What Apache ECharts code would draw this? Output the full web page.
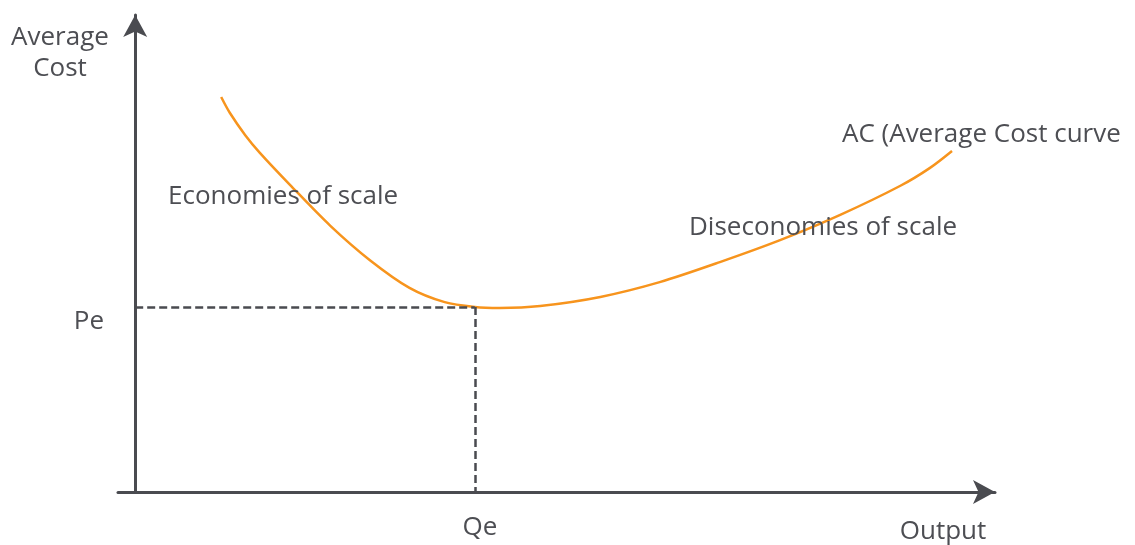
<!DOCTYPE html>
<html lang="en">
<head>
    <meta charset="UTF-8">
    <title>Average Cost curve</title>
    <style>
        html, body { margin: 0; padding: 0; background: #fff; }
    </style>
</head>
<body>
<div class="main" style="width: 1135px;height: 545px"></div>
</body>
<script src="https://cdn.jsdelivr.net/npm/echarts@6/dist/echarts.min.js"></script>
<script>
    // output (x) and average cost (y), axis range 0-100
    var outputVals = [10.0, 11.0, 12.8, 14.5, 18.0, 22.7, 27.3, 31.9, 36.0, 39.5, 42.4, 47.1, 54.1, 61.0, 68.0, 75.0, 82.0, 89.0, 92.4, 95.0];
    var costVals   = [82.8, 79.5, 74.8, 71.1, 64.4, 55.8, 48.6, 42.8, 39.8, 38.8, 38.6, 39.0, 40.9, 44.0, 48.2, 52.8, 58.1, 64.2, 67.9, 71.5];

    // equilibrium point
    var pe = 38.8;
    var qe = 39.5;

    // text notes on the curve: [x, y, text, align]
    var notes = [
        [17.2, 62.0, 'Economies of scale', 'center'],
        [80.0, 55.5, 'Diseconomies of scale', 'center'],
        [82.2, 75.0, 'AC (Average Cost curve', 'left']
    ];

    var textColor = '#4d4e53';
    var axisColor = '#4a4b50';
    var font = 'Open Sans';
    var fontSize = 26;

    var main = document.querySelector(".main");
    var chart = echarts.init(main);

    var curve = outputVals.map(function (x, i) {
        return [x, costVals[i]];
    });

    var option = {
        animation: false,
        grid: {
            left: 118,
            right: 140,
            top: 15,
            bottom: 53,
            outerBoundsMode: 'none'
        },
        graphic: [
            {
                type: 'text',
                x: 60,
                y: 22,
                style: {
                    text: 'Average\nCost',
                    fill: textColor,
                    font: fontSize + 'px "' + font + '"',
                    lineHeight: 31,
                    align: 'center',
                    verticalAlign: 'top'
                }
            },
            {
                type: 'text',
                x: 943,
                y: 532,
                style: {
                    text: 'Output',
                    fill: textColor,
                    font: fontSize + 'px "' + font + '"',
                    align: 'center',
                    verticalAlign: 'middle'
                }
            }
        ],
        xAxis: {
            type: 'value',
            min: -2,
            max: 100,
            splitLine: {show: false},
            axisTick: {show: false},
            axisLine: {
                onZero: false,
                symbol: ['none', 'arrow'],
                symbolSize: [18, 22],
                lineStyle: {color: axisColor, width: 3}
            },
            axisLabel: {
                customValues: [qe],
                formatter: function () { return 'Qe'; },
                color: textColor,
                fontFamily: font,
                fontSize: fontSize,
                margin: 23,
                padding: [0, 0, 0, 10]
            }
        },
        yAxis: {
            type: 'value',
            min: 0,
            max: 100,
            splitLine: {show: false},
            axisTick: {show: false},
            axisLine: {
                onZero: true,
                symbol: ['none', 'arrow'],
                symbolSize: [18, 22],
                lineStyle: {color: axisColor, width: 3}
            },
            axisLabel: {
                customValues: [pe],
                formatter: function () { return 'Pe'; },
                color: textColor,
                fontFamily: font,
                fontSize: fontSize,
                margin: 14,
                verticalAlign: 'top',
                padding: [2, 0, 0, 0]
            }
        },
        series: [
            {
                type: 'line',
                data: curve,
                smooth: 0.3,
                symbol: 'none',
                lineStyle: {color: '#f7941d', width: 2.5},
                markLine: {
                    silent: true,
                    symbol: 'none',
                    label: {show: false},
                    lineStyle: {color: axisColor, width: 2.5, type: [8, 4]},
                    data: [
                        [{coord: [0, pe]}, {coord: [qe, pe]}],
                        [{coord: [qe, pe]}, {coord: [qe, 0]}]
                    ]
                },
                markPoint: {
                    silent: true,
                    symbol: 'circle',
                    symbolSize: 0,
                    data: notes.map(function (n) {
                        return {
                            coord: [n[0], n[1]],
                            label: {
                                show: true,
                                position: 'inside',
                                formatter: n[2],
                                color: textColor,
                                fontFamily: font,
                                fontSize: fontSize,
                                align: n[3]
                            }
                        };
                    })
                }
            }
        ]
    };
    chart.setOption(option);
</script>
</html>
